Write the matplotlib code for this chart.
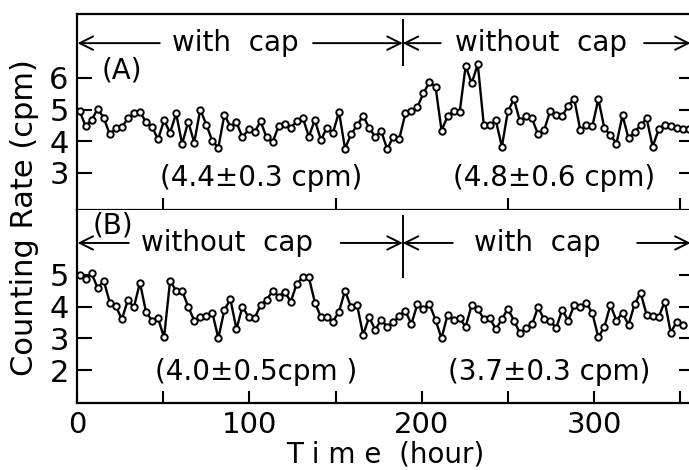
import numpy as np
import matplotlib
matplotlib.use('Agg')
import matplotlib.pyplot as plt

# counting rate, one point every 3.5 hours
step_h = 3.5
rate_a = [4.95, 4.48, 4.67, 5.03, 4.74, 4.22, 4.41, 4.45, 4.72, 4.88, 4.94,
          4.60, 4.46, 4.06, 4.66, 4.27, 4.88, 3.91, 4.62, 3.96, 5.00, 4.53,
          4.01, 3.80, 4.84, 4.46, 4.60, 4.12, 4.38, 4.29, 4.63, 4.12, 3.98,
          4.48, 4.56, 4.43, 4.63, 4.74, 4.15, 4.67, 4.04, 4.43, 4.27, 4.93,
          3.77, 4.22, 4.50, 4.81, 4.42, 4.15, 4.32, 3.75, 4.15, 4.08, 4.88,
          4.95, 5.08, 5.52, 5.87, 5.73, 4.34, 4.79, 4.97, 4.92, 6.38, 5.83,
          6.44, 4.53, 4.50, 4.66, 3.83, 4.95, 5.33, 4.63, 4.79, 4.72, 4.22,
          4.35, 4.95, 4.82, 4.79, 5.13, 5.34, 4.35, 4.50, 4.48, 5.33, 4.41,
          4.19, 3.93, 4.82, 4.09, 4.30, 4.50, 4.72, 3.83, 4.38, 4.53, 4.48,
          4.41, 4.40, 4.38]
rate_b = [5.00, 4.87, 5.05, 4.58, 4.82, 4.13, 4.02, 3.60, 4.21, 3.98, 4.76,
          3.84, 3.56, 3.63, 3.03, 4.82, 4.50, 4.50, 4.00, 3.56, 3.67, 3.71,
          3.81, 3.00, 3.90, 4.23, 3.29, 4.00, 3.67, 3.63, 4.05, 4.21, 4.50,
          4.32, 4.47, 4.16, 4.72, 4.93, 4.93, 4.13, 3.67, 3.67, 3.53, 3.84,
          4.50, 3.98, 4.05, 3.11, 3.67, 3.27, 3.58, 3.37, 3.50, 3.71, 3.87,
          3.45, 4.08, 3.94, 4.08, 3.58, 3.00, 3.74, 3.58, 3.63, 3.37, 4.05,
          3.94, 3.60, 3.63, 3.29, 3.60, 3.94, 3.56, 3.16, 3.32, 3.44, 3.98,
          3.60, 3.56, 3.32, 3.90, 3.56, 4.05, 3.98, 4.13, 3.79, 3.03, 3.37,
          4.05, 3.56, 3.81, 3.42, 4.08, 4.44, 3.74, 3.71, 3.67, 4.16, 3.18,
          3.53, 3.42]
hours_a = 1.5 + step_h * np.arange(len(rate_a))
hours_b = 1.5 + step_h * np.arange(len(rate_b))

switch_h = 189
labels_a = ['with  cap', 'without  cap']
labels_b = ['without  cap', 'with  cap']
means_a = ['(4.4\u00b10.3 cpm)', '(4.8\u00b10.6 cpm)']
means_b = ['(4.0\u00b10.5cpm )', '(3.7\u00b10.3 cpm)']

fig = plt.figure(figsize=(6.89, 4.70), dpi=100)
axA = fig.add_axes([0.1118, 0.5532, 0.8955, 0.4170])
axB = fig.add_axes([0.1118, 0.1426, 0.8955, 0.4106])

line_kw = dict(color='black', lw=1.7, marker='o', ms=4.6, mfc='white',
               mec='black', mew=1.4)
axA.plot(hours_a, rate_a, **line_kw)
axB.plot(hours_b, rate_b, **line_kw)

axA.set_ylim(1.83, 8.02)
axB.set_ylim(0.96, 7.05)
for ax in (axA, axB):
    ax.set_xlim(0, 358)
    ax.spines['right'].set_visible(False)
    for s in ('left', 'top', 'bottom'):
        ax.spines[s].set_linewidth(1.6)
    ax.tick_params(axis='y', which='both', direction='in', left=True,
                   right=True, length=9.5, width=1.5, labelsize=22, pad=6)
    ax.tick_params(axis='y', which='both', right=True, length=11)
axB.spines['top'].set_visible(False)

axA.set_yticks([3, 4, 5, 6])
axB.set_yticks([2, 3, 4, 5])

axA.set_xticks([50, 150, 250, 350])
axA.tick_params(axis='x', direction='in', length=9, width=1.5,
                labelbottom=False)
axB.set_xticks(np.arange(0, 351, 50))
axB.set_xticklabels(['0', '', '100', '', '200', '', '300', ''])
axB.tick_params(axis='x', direction='in', length=9, width=1.5,
                labelsize=21, pad=6)
axB.set_xlabel('T i m e  (hour)', fontsize=20, labelpad=1)

fig.text(0.036, 0.538, 'Counting Rate (cpm)', rotation=90, fontsize=22,
         ha='center', va='center')

arrow = dict(arrowstyle='->', lw=1.4, color='black', mutation_scale=24,
             shrinkA=0, shrinkB=0)


def header(ax, y, segs, labels, text_x, ylo, yhi):
    for x0, x1 in segs:
        ax.annotate('', xy=(x1, y), xytext=(x0, y), arrowprops=arrow)
    for lab, tx in zip(labels, text_x):
        ax.text(tx, y, lab, fontsize=20, ha='center', va='center')
    ax.plot([switch_h, switch_h], [ylo, yhi], color='black', lw=1.4)


header(axA, 7.1, [(48, 0.3), (137, switch_h), (211, switch_h), (329, 356)],
       labels_a, [92, 269], 6.41, 7.83)
header(axB, 6.01, [(30, 0.3), (153, switch_h), (218, switch_h), (325, 356)],
       labels_b, [87, 267], 4.94, 6.86)

axA.text(26, 6.25, '(A)', fontsize=20, ha='center', va='center')
axB.text(21, 6.55, '(B)', fontsize=20, ha='center', va='center')

axA.text(107, 2.85, means_a[0], fontsize=20, ha='center', va='center')
axA.text(277, 2.85, means_a[1], fontsize=20, ha='center', va='center')
axB.text(104, 1.95, means_b[0], fontsize=20, ha='center', va='center')
axB.text(274, 1.95, means_b[1], fontsize=20, ha='center', va='center')

fig.savefig('out.png', dpi=100)
